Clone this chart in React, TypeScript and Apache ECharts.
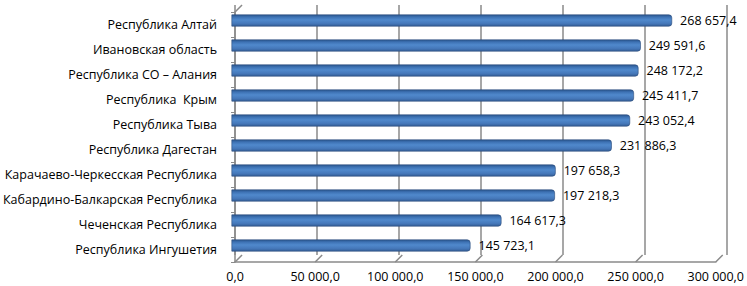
import React, { useEffect, useRef } from "react";
import * as echarts from "echarts";

const categories = [
  "Республика Алтай",
  "Ивановская область",
  "Республика СО – Алания",
  "Республика  Крым",
  "Республика Тыва",
  "Республика Дагестан",
  "Карачаево-Черкесская Республика",
  "Кабардино-Балкарская Республика",
  "Чеченская Республика",
  "Республика Ингушетия",
];

const values = [
  268657.4, 249591.6, 248172.2, 245411.7, 243052.4, 231886.3, 197658.3, 197218.3,
  164617.3, 145723.1,
];

const tickValues = [0, 50000, 100000, 150000, 200000, 250000, 300000];
const AXIS_MIN = 0;
const AXIS_MAX = 300000;
const AXIS_STEP = 50000;

const DEPTH = 7;
const GRID_COLOR = "#8a8a8a";
const FONT = "'Open Sans', 'Noto Sans', sans-serif";

function fmt(v: number): string {
  const s = v.toFixed(1);
  const [intPart, dec] = s.split(".");
  const withSpaces = intPart.replace(/\B(?=(\d{3})+(?!\d))/g, " ");
  return withSpaces + "," + dec;
}

export default function App() {
  const ref = useRef<HTMLDivElement>(null);

  useEffect(() => {
    if (!ref.current) return;
    const chart = echarts.init(ref.current, undefined, { renderer: "svg" });

    const valueAxisBase = {
      type: "value" as const,
      min: AXIS_MIN,
      max: AXIS_MAX,
      interval: AXIS_STEP,
    };

    chart.setOption({
      animation: false,
      backgroundColor: "#ffffff",
      grid: [
        { left: 228, right: 27, top: 12, bottom: 24, containLabel: false },
        { left: 228 + DEPTH, right: 27 - DEPTH, top: 12 - DEPTH, bottom: 24 + DEPTH, containLabel: false },
        { left: 231.5, right: 23.5, top: 8, bottom: 28, containLabel: false },
      ],
      xAxis: [
        {
          ...valueAxisBase,
          gridIndex: 0,
          axisLine: { show: true, lineStyle: { color: GRID_COLOR, width: 1.5 } },
          axisTick: { show: false },
          splitLine: { show: false },
          axisLabel: {
            show: true,
            color: "#000",
            fontSize: 12.5,
            fontFamily: FONT,
            margin: 8,
            formatter: (v: number) => fmt(v),
          },
        },
        {
          ...valueAxisBase,
          gridIndex: 1,
          axisLine: { show: false },
          axisTick: { show: false },
          axisLabel: { show: false },
          splitLine: { show: true, lineStyle: { color: GRID_COLOR, width: 1.5 } },
        },
        {
          ...valueAxisBase,
          gridIndex: 2,
          show: false,
          splitLine: { show: false },
        },
      ],
      yAxis: [
        {
          type: "category",
          gridIndex: 0,
          data: categories,
          inverse: true,
          axisLine: { show: true, lineStyle: { color: GRID_COLOR, width: 1.5 } },
          axisTick: { show: true, length: 4, lineStyle: { color: GRID_COLOR } },
          axisLabel: {
            color: "#000",
            fontSize: 12.5,
            fontFamily: FONT,
            margin: 18,
          },
          splitLine: { show: false },
        },
        {
          type: "category",
          gridIndex: 1,
          data: categories,
          inverse: true,
          show: false,
        },
        {
          type: "category",
          gridIndex: 2,
          data: categories,
          inverse: true,
          show: false,
        },
      ],
      series: [
        {
          type: "bar",
          xAxisIndex: 2,
          yAxisIndex: 2,
          data: values,
          barWidth: 12,
          itemStyle: {
            color: new echarts.graphic.LinearGradient(0, 0, 0, 1, [
              { offset: 0, color: "#2a5690" },
              { offset: 0.22, color: "#3f74b6" },
              { offset: 0.45, color: "#5089cc" },
              { offset: 0.75, color: "#4679bb" },
              { offset: 1, color: "#355f98" },
            ]),
            borderColor: "#2a4a78",
            borderWidth: 0.6,
            borderRadius: [0, 3, 3, 0],
          },
          label: {
            show: true,
            position: "right",
            distance: 8,
            color: "#000",
            fontSize: 12.5,
            fontFamily: FONT,
            formatter: (p: any) => fmt(p.value),
          },
        },
        {
          type: "custom",
          xAxisIndex: 0,
          yAxisIndex: 0,
          silent: true,
          clip: false,
          data: tickValues.map((v) => [v]),
          renderItem: (params: any, api: any) => {
            const cs = params.coordSys;
            const x = api.coord([api.value(0), 0])[0];
            const bottom = cs.y + cs.height;
            return {
              type: "line",
              shape: { x1: x, y1: bottom, x2: x + DEPTH, y2: bottom - DEPTH },
              style: { stroke: GRID_COLOR, lineWidth: 1.5 },
            };
          },
        },
        {
          type: "custom",
          xAxisIndex: 0,
          yAxisIndex: 0,
          silent: true,
          clip: false,
          data: [[AXIS_MIN]],
          renderItem: (params: any, api: any) => {
            const cs = params.coordSys;
            const x = api.coord([api.value(0), 0])[0];
            return {
              type: "line",
              shape: { x1: x, y1: cs.y, x2: x + DEPTH, y2: cs.y - DEPTH },
              style: { stroke: GRID_COLOR, lineWidth: 1.5 },
            };
          },
        },
      ],
    });

    return () => chart.dispose();
  }, []);

  return (
    <div
      ref={ref}
      style={{ position: "fixed", left: 0, top: 0, width: 747, height: 286 }}
    />
  );
}
